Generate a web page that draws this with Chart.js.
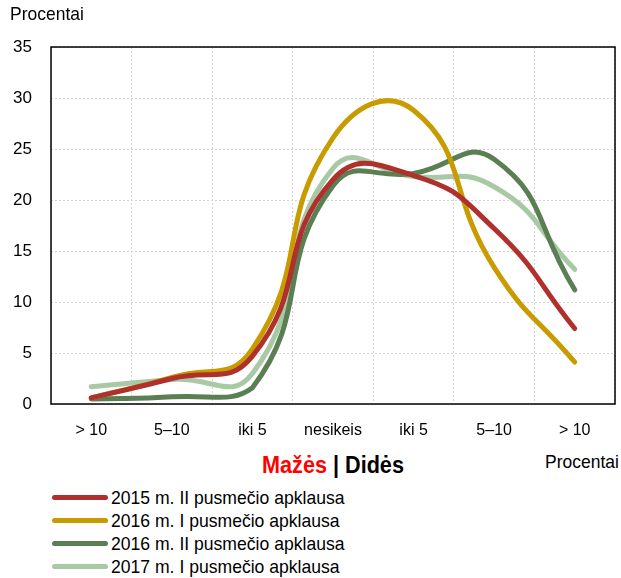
<!DOCTYPE html>
<html>
<head>
<meta charset="utf-8">
<script src="https://cdn.jsdelivr.net/npm/chart.js@4.4.0/dist/chart.umd.min.js"></script>
<style>
  body { margin: 0; background: #fff; font-family: "Liberation Sans", Arial, sans-serif; }
  #wrap { position: relative; width: 621px; height: 578px; overflow: hidden; }
  #box { position: absolute; left: 0; top: 0; width: 621px; height: 445px; }
  .lbl { position: absolute; font-size: 19px; color: #000; white-space: nowrap; transform: scaleX(0.92); transform-origin: left center; }
  #title { position: absolute; left: 333px; top: 452px; font-size: 23px; font-weight: bold; white-space: nowrap;
           transform: translateX(-50%) scaleX(0.94); }
  #legend { position: absolute; left: 52px; top: 486px; }
  .item { height: 23px; display: flex; align-items: center; }
  .sw { width: 56px; height: 5px; border-radius: 3px; margin-right: 3px; }
  .txt { font-size: 19px; display: inline-block; transform: scaleX(0.925); transform-origin: left center; white-space: nowrap; }
</style>
</head>
<body>
<div id="wrap">
  <div id="box"><canvas id="lineChart"></canvas></div>
  <div class="lbl" style="left:10px;top:3px;">Procentai</div>
  <div id="title"><span style="color:#ff0000">Mažės</span> | Didės</div>
  <div class="lbl" style="left:545px;top:451px;">Procentai</div>
  <div id="legend"></div>
</div>
<script>
// Categories along the x axis
const labels = ["> 10", "5–10", "iki 5", "nesikeis", "iki 5", "5–10", "> 10"];
const yTicks = [0, 5, 10, 15, 20, 25, 30, 35];

// Share of answers (%) for each survey
const survey2015II = [0.6, 2.5, 4.7, 22.0, 22.4, 17.2, 7.4];
const survey2016I = [0.6, 2.6, 5.4, 26.1, 28.8, 13.4, 4.1];
const survey2016II = [0.5, 0.7, 1.6, 21.4, 22.6, 24.0, 11.2];
const survey2017I = [1.7, 2.4, 3.0, 23.1, 22.3, 21.3, 13.2];

const seriesNames = [
  "2015 m. II pusmečio apklausa",
  "2016 m. I pusmečio apklausa",
  "2016 m. II pusmečio apklausa",
  "2017 m. I pusmečio apklausa",
];
const seriesColors = ["#b0302e", "#c89b00", "#5a7f52", "#a9c9a4"];
const seriesValues = [survey2015II, survey2016I, survey2016II, survey2017I];

const datasets = seriesValues.map(function (vals, i) {
  return {
    label: seriesNames[i],
    data: vals,
    borderColor: seriesColors[i],
    backgroundColor: seriesColors[i],
    borderWidth: 5,
    borderCapStyle: "round",
    pointRadius: 0,
    tension: 0.5,
    fill: false,
  };
});

// Black frame round the plot area
const frame = {
  id: "frame",
  afterDraw(chart) {
    const a = chart.chartArea;
    const ctx = chart.ctx;
    ctx.save();
    ctx.strokeStyle = "#000";
    ctx.lineWidth = 1.5;
    ctx.strokeRect(a.left, a.top, a.right - a.left, a.bottom - a.top);
    ctx.restore();
  },
};

const tickFont = { family: "Liberation Sans", size: 16 };

const config = {
  type: "line",
  data: { labels: labels, datasets: datasets },
  options: {
    responsive: true,
    maintainAspectRatio: false,
    animation: false,
    layout: { padding: { top: 47, right: 6, left: 0, bottom: 0 } },
    plugins: {
      legend: { display: false },
      tooltip: { enabled: false },
    },
    scales: {
      x: {
        offset: true,
        grid: { offset: true, color: "#d4d4d4", drawTicks: false, lineWidth: 1 },
        border: { display: false, dash: [2, 2] },
        ticks: { color: "#000", padding: 17, font: tickFont, maxRotation: 0 },
        afterFit(s) { s.height = 41; },
      },
      y: {
        min: 0,
        max: 35,
        afterBuildTicks(s) { s.ticks = yTicks.map(v => ({ value: v })); },
        grid: { color: "#d4d4d4", drawTicks: false, lineWidth: 1 },
        border: { display: false, dash: [2, 2] },
        ticks: { color: "#000", padding: 19, font: { family: "Liberation Sans", size: 17 } },
        afterFit(s) { s.width = 51; },
      },
    },
  },
  plugins: [frame],
};

const lineChart = new Chart(document.getElementById("lineChart"), config);

// Legend below the chart
const legend = document.getElementById("legend");
seriesNames.forEach(function (name, i) {
  const row = document.createElement("div");
  row.className = "item";
  row.innerHTML = '<span class="sw" style="background:' + seriesColors[i] + '"></span><span class="txt">' + name + '</span>';
  legend.appendChild(row);
});
</script>
</body>
</html>
